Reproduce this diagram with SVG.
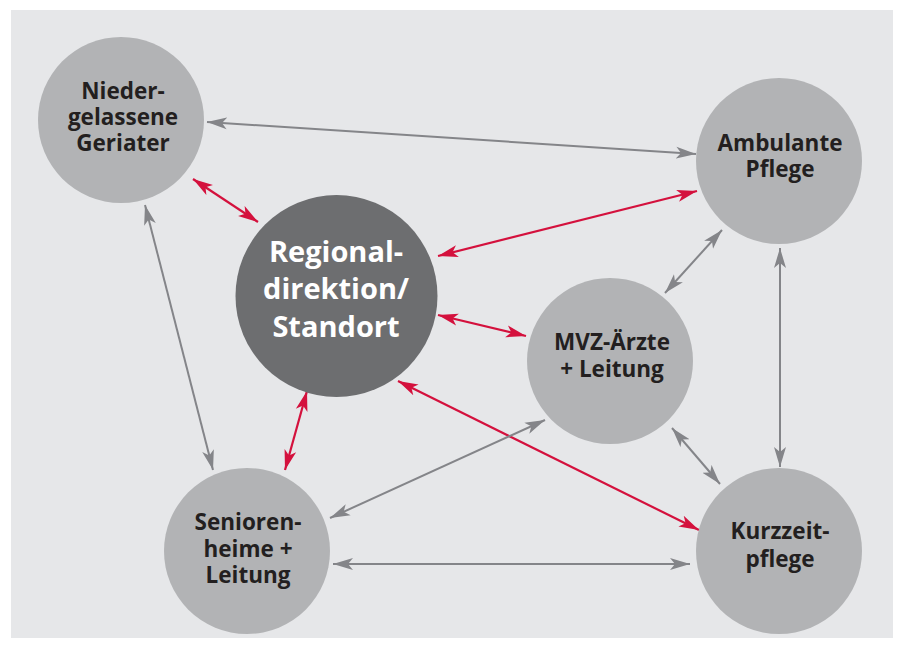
<svg xmlns="http://www.w3.org/2000/svg" width="904" height="648" viewBox="0 0 904 648">
<style>
.node{fill:#b2b3b5}
.main{fill:#6d6e70}
.t{font-family:"Open Sans","Liberation Sans",sans-serif;font-weight:bold;font-size:22.5px;fill:#231f20;text-anchor:middle}
.tw{font-family:"Open Sans","Liberation Sans",sans-serif;font-weight:bold;font-size:29px;fill:#ffffff;text-anchor:middle}
.g{stroke:#848589;stroke-width:2;fill:none;marker-start:url(#ag);marker-end:url(#ag)}
.r{stroke:#d4113d;stroke-width:2.2;fill:none;marker-start:url(#ar);marker-end:url(#ar)}
</style>
<defs>
<marker id="ag" markerUnits="userSpaceOnUse" markerWidth="21" markerHeight="13" refX="20" refY="6" orient="auto-start-reverse" viewBox="0 0 21 12">
<path d="M0,0 L20,6 L0,12 L5,6 z" fill="#848589"/>
</marker>
<marker id="ar" markerUnits="userSpaceOnUse" markerWidth="21" markerHeight="13" refX="20" refY="6" orient="auto-start-reverse" viewBox="0 0 21 12">
<path d="M0,0 L20,6 L0,12 L5,6 z" fill="#d4113d"/>
</marker>
</defs>
<rect x="0" y="0" width="904" height="648" fill="#ffffff"/>
<rect x="11" y="10" width="882" height="628" fill="#e6e7e9"/>
<g id="connectors">
<line class="g" x1="207" y1="122" x2="696" y2="154"/>
<line class="r" x1="193" y1="179" x2="258" y2="222"/>
<line class="g" x1="145" y1="205" x2="213" y2="470"/>
<line class="r" x1="438" y1="256" x2="697" y2="191"/>
<line class="r" x1="438" y1="315" x2="526" y2="336"/>
<line class="r" x1="398" y1="381" x2="699" y2="530"/>
<line class="r" x1="307" y1="391" x2="285" y2="470"/>
<line class="g" x1="665" y1="293" x2="722" y2="230"/>
<line class="g" x1="672" y1="428" x2="720" y2="484"/>
<line class="g" x1="545" y1="420" x2="330" y2="518"/>
<line class="g" x1="780" y1="248" x2="780" y2="467"/>
<line class="g" x1="333" y1="564" x2="690" y2="564"/>
</g>
<g id="n-geriater">
<circle class="node" cx="121" cy="120" r="83"/>
<text class="t" x="123" y="99">Nieder-</text>
<text class="t" x="123" y="125">gelassene</text>
<text class="t" x="123" y="151">Geriater</text>
</g>
<g id="n-regional">
<circle class="main" cx="336.5" cy="296" r="101"/>
<text class="tw" x="336" y="262">Regional-</text>
<text class="tw" x="336" y="299">direktion/</text>
<text class="tw" x="336" y="337">Standort</text>
</g>
<g id="n-ambulant">
<circle class="node" cx="779" cy="161" r="83"/>
<text class="t" x="780" y="151">Ambulante</text>
<text class="t" x="780" y="177">Pflege</text>
</g>
<g id="n-mvz">
<circle class="node" cx="610" cy="361" r="83"/>
<text class="t" x="612" y="350">MVZ-Ärzte</text>
<text class="t" x="612" y="377">+ Leitung</text>
</g>
<g id="n-senioren">
<circle class="node" cx="247" cy="551" r="83"/>
<text class="t" x="248" y="530">Senioren-</text>
<text class="t" x="248" y="557">heime +</text>
<text class="t" x="248" y="583">Leitung</text>
</g>
<g id="n-kurzzeit">
<circle class="node" cx="779" cy="551" r="83"/>
<text class="t" x="780" y="539">Kurzzeit-</text>
<text class="t" x="780" y="567">pflege</text>
</g>
</svg>
